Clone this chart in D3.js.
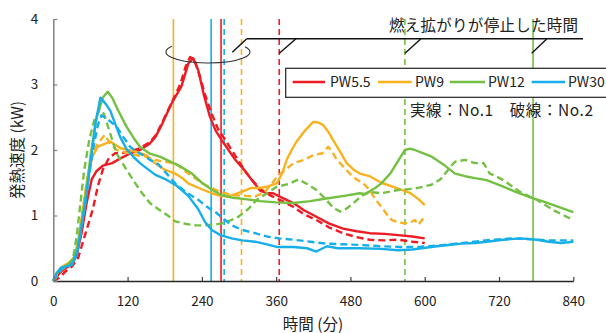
<!DOCTYPE html>
<html><head><meta charset="utf-8">
<script src="https://cdn.jsdelivr.net/npm/d3@7/dist/d3.min.js"></script>
<style>
html,body{margin:0;padding:0;background:#fff;}
text{font-family:"Noto Sans CJK JP","Noto Sans",sans-serif;}
</style></head>
<body>
<svg id="c" width="606" height="333"></svg>
<script>
// ---- data (minutes, kW) ----
const xTicks = [0,120,240,360,480,600,720,840];
const yTicks = [0,1,2,3,4];
const seriesNames = ["PW5.5","PW9","PW12","PW30"];
const seriesColors = ["#ED1C24","#F9B120","#74C043","#17AEE9"];

const pw55_no1 = [[0,0],[10,0.12],[20,0.2],[30,0.25],[38,0.4],[46,0.75],[54,1.2],[62,1.55],[70,1.68],[80,1.76],[95,1.8],[110,1.88],[125,1.95],[140,2.0],[156,2.1],[165,2.2],[175,2.38],[191,2.71],[207,2.97],[218,3.32],[226,3.40],[234,3.22],[243,2.85],[253,2.51],[262,2.3],[272,2.15],[283,2.0],[294,1.85],[308,1.7],[320,1.55],[334,1.38],[345,1.34],[355,1.34],[370,1.27],[388,1.19],[405,1.08],[425,0.98],[445,0.88],[468,0.8],[490,0.76],[511,0.73],[535,0.72],[557,0.7],[580,0.68],[600,0.65]];
const pw55_no2 = [[0,0],[10,0.05],[20,0.15],[30,0.22],[40,0.35],[48,0.6],[56,0.85],[64,1.1],[72,1.45],[80,1.7],[90,1.88],[100,1.95],[110,1.95],[125,1.98],[140,2.03],[156,2.12],[165,2.22],[175,2.4],[190,2.7],[205,3.0],[214,3.28],[221,3.42],[228,3.38],[236,3.15],[245,2.85],[256,2.55],[266,2.32],[276,2.18],[288,2.0],[300,1.82],[312,1.65],[325,1.5],[338,1.38],[352,1.3],[370,1.22],[388,1.13],[405,1.02],[425,0.93],[445,0.82],[468,0.73],[490,0.67],[511,0.63],[535,0.62],[557,0.63],[580,0.6],[600,0.58]];
const pw9_no1 = [[0,0],[8,0.15],[15,0.22],[25,0.28],[33,0.35],[40,0.6],[48,1.1],[55,1.55],[63,1.9],[72,2.05],[85,2.1],[92,2.13],[100,2.08],[108,2.03],[120,2.0],[135,1.97],[150,1.92],[164,1.8],[180,1.7],[197,1.64],[210,1.56],[218,1.49],[235,1.42],[256,1.34],[270,1.3],[283,1.29],[295,1.33],[304,1.36],[320,1.42],[334,1.42],[345,1.44],[361,1.49],[370,1.65],[377,1.85],[385,2.0],[393,2.13],[405,2.28],[420,2.43],[428,2.42],[436,2.38],[444,2.28],[452,2.15],[463,1.98],[474,1.8],[485,1.7],[495,1.64],[511,1.6],[530,1.5],[557,1.41],[575,1.35],[590,1.25],[600,1.16]];
const pw9_no2 = [[0,0],[10,0.15],[20,0.22],[30,0.25],[38,0.45],[46,1.0],[54,1.5],[63,1.95],[72,2.1],[83,2.23],[92,2.1],[102,2.0],[118,1.96],[135,1.92],[150,1.9],[164,1.85],[180,1.82],[197,1.8],[210,1.7],[218,1.64],[232,1.55],[245,1.47],[265,1.38],[288,1.31],[310,1.3],[326,1.29],[340,1.35],[350,1.45],[361,1.59],[375,1.7],[388,1.8],[405,1.85],[420,1.92],[435,1.95],[444,2.05],[450,1.98],[458,1.85],[468,1.75],[479,1.64],[490,1.55],[501,1.49],[511,1.39],[520,1.25],[530,1.13],[540,1.0],[547,0.93],[557,0.9],[568,0.88],[578,0.9],[584,0.93],[590,0.86],[597,0.95],[600,1.0]];
const pw12_no1 = [[0,0],[5,0.1],[12,0.2],[20,0.23],[30,0.3],[38,0.45],[45,0.85],[52,1.3],[60,1.9],[70,2.5],[80,2.8],[88,2.89],[95,2.8],[105,2.6],[118,2.36],[130,2.18],[140,2.05],[155,1.95],[172,1.9],[190,1.82],[205,1.75],[224,1.64],[240,1.5],[255,1.4],[272,1.31],[290,1.27],[310,1.25],[334,1.22],[360,1.2],[388,1.19],[415,1.22],[441,1.26],[470,1.3],[495,1.34],[504,1.33],[520,1.42],[530,1.49],[545,1.65],[558,1.85],[568,2.0],[576,2.02],[584,2.0],[598,1.95],[611,1.9],[630,1.78],[649,1.64],[665,1.6],[681,1.57],[700,1.54],[727,1.44],[750,1.35],[775,1.26],[790,1.22],[808,1.16],[825,1.1],[840,1.05]];
const pw12_no2 = [[0,0],[8,0.1],[15,0.2],[25,0.25],[32,0.35],[38,0.7],[44,1.2],[50,1.7],[58,2.15],[66,2.45],[75,2.62],[82,2.55],[92,2.25],[102,1.95],[115,1.75],[129,1.54],[142,1.36],[156,1.19],[172,1.08],[185,1.0],[197,0.91],[215,0.87],[230,0.85],[245,0.85],[260,0.86],[272,0.88],[285,0.92],[299,0.98],[315,1.1],[330,1.25],[342,1.32],[361,1.44],[380,1.48],[396,1.55],[410,1.48],[425,1.39],[440,1.25],[452,1.12],[463,1.06],[473,1.1],[485,1.19],[498,1.3],[511,1.36],[530,1.34],[557,1.39],[584,1.41],[611,1.47],[625,1.55],[633,1.64],[642,1.75],[649,1.82],[665,1.85],[681,1.8],[695,1.8],[705,1.64],[715,1.6],[727,1.54],[754,1.36],[781,1.24],[808,1.08],[825,1.0],[840,0.93]];
const pw30_no1 = [[0,0],[5,0.12],[12,0.2],[20,0.22],[30,0.25],[38,0.4],[45,0.8],[52,1.2],[60,1.8],[68,2.4],[76,2.8],[85,2.7],[92,2.6],[100,2.4],[108,2.2],[118,2.02],[129,1.9],[140,1.8],[151,1.72],[165,1.62],[180,1.56],[200,1.45],[218,1.3],[234,1.1],[245,0.9],[256,0.78],[270,0.7],[288,0.65],[305,0.62],[326,0.6],[345,0.56],[361,0.52],[388,0.52],[410,0.5],[425,0.45],[442,0.53],[460,0.5],[495,0.5],[530,0.49],[557,0.47],[580,0.48],[595,0.5],[620,0.53],[638,0.55],[660,0.57],[681,0.58],[700,0.6],[727,0.63],[754,0.65],[781,0.63],[800,0.6],[820,0.58],[840,0.6]];
const pw30_no2 = [[0,0],[8,0.12],[15,0.2],[25,0.22],[33,0.3],[40,0.5],[48,0.95],[56,1.5],[64,2.0],[72,2.38],[78,2.53],[86,2.48],[94,2.42],[102,2.36],[113,2.2],[124,2.05],[135,1.97],[145,1.92],[156,1.85],[170,1.78],[185,1.62],[197,1.49],[215,1.35],[234,1.24],[250,1.12],[261,1.06],[275,0.95],[288,0.85],[305,0.78],[326,0.73],[345,0.68],[365,0.65],[388,0.63],[415,0.6],[441,0.57],[470,0.56],[495,0.55],[530,0.53],[560,0.52],[590,0.52],[620,0.54],[650,0.57],[680,0.6],[710,0.63],[740,0.65],[770,0.64],[800,0.62],[840,0.62]];

// times when flame spread stopped (solid: No.1, dashed: No.2)
const stopNo1 = [271,194,775,255];   // PW5.5, PW9, PW12, PW30
const stopNo2 = [365,304,568,276];

// ---- chart ----
const svg = d3.select("#c");
const x = d3.scaleLinear().domain([0,840]).range([53.3,573.3]);
const y = d3.scaleLinear().domain([0,4]).range([281,19]);

// vertical stop lines
seriesNames.forEach((n,i)=>{
  svg.append("line").attr("x1",x(stopNo1[i])).attr("x2",x(stopNo1[i]))
    .attr("y1",y(4)).attr("y2",y(0)).attr("stroke",seriesColors[i]).attr("stroke-width",1.6);
  svg.append("line").attr("x1",x(stopNo2[i])).attr("x2",x(stopNo2[i]))
    .attr("y1",y(4)).attr("y2",y(0)).attr("stroke",seriesColors[i]).attr("stroke-width",1.6)
    .attr("stroke-dasharray","6,4");
});

// curves
const line = d3.line().x(d=>x(d[0])).y(d=>y(d[1]));
const curves = [
  [pw55_no2,0,true],[pw55_no1,0,false],
  [pw9_no2,1,true],[pw9_no1,1,false],
  [pw12_no2,2,true],[pw12_no1,2,false],
  [pw30_no2,3,true],[pw30_no1,3,false]
];
curves.forEach(([d,i,dash])=>{
  svg.append("path").datum(d).attr("d",line).attr("fill","none")
    .attr("stroke",seriesColors[i]).attr("stroke-width",2.4)
    .attr("stroke-linejoin","round")
    .attr("stroke-dasharray",dash?"7,4":null);
});

// axes
const xAxis = svg.append("g").attr("transform",`translate(0,${y(0)})`)
  .call(d3.axisBottom(x).tickValues(xTicks).tickSizeInner(-4).tickSizeOuter(0).tickPadding(15));
const yAxis = svg.append("g").attr("transform",`translate(${x(0)},0)`)
  .call(d3.axisLeft(y).tickValues(yTicks).tickSizeInner(-4).tickSizeOuter(0).tickPadding(15).tickFormat(d3.format("d")));
xAxis.select(".domain").attr("stroke","#262626").attr("stroke-width",1.5);
yAxis.select(".domain").attr("stroke","#808080").attr("stroke-width",1.5);
xAxis.selectAll(".tick line").attr("stroke","#404040").attr("stroke-width",1.2);
yAxis.selectAll(".tick line").attr("stroke","#808080").attr("stroke-width",1.2);
[xAxis,yAxis].forEach(a=>a.selectAll(".tick text").attr("font-size",13.5).attr("fill","#222")
  .attr("font-family",'"Noto Sans CJK JP","Noto Sans",sans-serif'));

// axis titles
svg.append("text").attr("x",313).attr("y",330).attr("text-anchor","middle")
  .attr("font-size",15.5).attr("fill","#222").text("時間 (分)");
svg.append("text").attr("transform","translate(23,150) rotate(-90)").attr("text-anchor","middle")
  .attr("font-size",15.5).attr("fill","#222").text("発熱速度 (kW)");

// annotation
svg.append("path").attr("d","M172,46.3 A42,11 0 1,0 245,46.8")
  .attr("fill","none").attr("stroke","#333").attr("stroke-width",1.1);
svg.append("line").attr("x1",246.7).attr("y1",38.7).attr("x2",583).attr("y2",38.7)
  .attr("stroke","#111").attr("stroke-width",1.4);
[[232.3,52.3,246.7,38.7],[279.3,53.3,296,38.7],[405,53.3,420.7,39],[531.7,53.3,546.7,39]].forEach(s=>{
  svg.append("line").attr("x1",s[0]).attr("y1",s[1]).attr("x2",s[2]).attr("y2",s[3])
    .attr("stroke","#111").attr("stroke-width",1.4);
});
svg.append("text").attr("x",389).attr("y",31).attr("textLength",189).attr("lengthAdjust","spacing")
  .attr("font-size",15.5).attr("fill","#222").text("燃え拡がりが停止した時間");

// legend
svg.append("rect").attr("x",285.7).attr("y",68.3).attr("width",330).attr("height",29)
  .attr("fill","#fff").attr("stroke","#222").attr("stroke-width",1.2);
const legX = [[292.7,325,330],[378,411.7,415],[450,485,488],[531.7,565,568]];
seriesNames.forEach((n,i)=>{
  svg.append("line").attr("x1",legX[i][0]).attr("x2",legX[i][1]).attr("y1",82).attr("y2",82)
    .attr("stroke",seriesColors[i]).attr("stroke-width",2.6);
  svg.append("text").attr("x",legX[i][2]).attr("y",87).attr("font-size",14).attr("fill","#222").text(n);
});
svg.append("text").attr("x",410).attr("y",116).attr("font-size",15.5).attr("fill","#222")
  .attr("textLength",183).attr("lengthAdjust","spacing")
  .text("実線：No.1　破線：No.2");
</script>
</body></html>
